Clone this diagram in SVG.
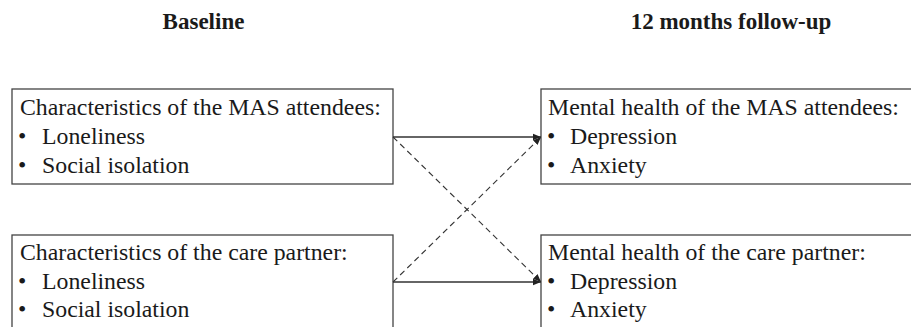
<svg xmlns="http://www.w3.org/2000/svg" width="911" height="327" viewBox="0 0 911 327">
<defs>
<style>
.hdr{font-family:"Liberation Serif","Times New Roman",serif;font-weight:bold;font-size:23px;fill:#1a1a1a;text-anchor:middle}
.t{font-family:"Liberation Serif","Times New Roman",serif;font-size:23.8px;fill:#1a1a1a}
.box{fill:#fff;stroke:#444;stroke-width:1.3}
.solid{stroke:#333;stroke-width:1.3;fill:none}
.dash{stroke:#333;stroke-width:1.1;fill:none;stroke-dasharray:6 4}
</style>
<marker id="ah" viewBox="0 0 10 10" refX="10" refY="5" markerWidth="8" markerHeight="8" markerUnits="userSpaceOnUse" orient="auto">
<path d="M0,1 L10,5 L0,9 z" fill="#222"/>
</marker>
</defs>
<rect width="911" height="327" fill="#fff"/>
<g id="headers">
<text class="hdr" x="203.5" y="29">Baseline</text>
<text class="hdr" x="731" y="29">12 months follow-up</text>
</g>
<g id="node-mas-baseline">
<rect class="box" x="12" y="89" width="381" height="95"/>
<text class="t" x="20" y="115">Characteristics of the MAS attendees:</text>
<text class="t" x="18" y="144">•</text><text class="t" x="42" y="144">Loneliness</text>
<text class="t" x="18" y="173">•</text><text class="t" x="42" y="173">Social isolation</text>
</g>
<g id="node-cp-baseline">
<rect class="box" x="12" y="235" width="381" height="100"/>
<text class="t" x="20" y="260">Characteristics of the care partner:</text>
<text class="t" x="18" y="289">•</text><text class="t" x="42" y="289">Loneliness</text>
<text class="t" x="18" y="317">•</text><text class="t" x="42" y="317">Social isolation</text>
</g>
<g id="node-mas-followup">
<rect class="box" x="541" y="89" width="380" height="95"/>
<text class="t" x="548" y="115">Mental health of the MAS attendees:</text>
<text class="t" x="547" y="144">•</text><text class="t" x="570" y="144">Depression</text>
<text class="t" x="547" y="173">•</text><text class="t" x="570" y="173">Anxiety</text>
</g>
<g id="node-cp-followup">
<rect class="box" x="541" y="235" width="380" height="100"/>
<text class="t" x="548" y="260">Mental health of the care partner:</text>
<text class="t" x="547" y="289">•</text><text class="t" x="570" y="289">Depression</text>
<text class="t" x="547" y="317">•</text><text class="t" x="570" y="317">Anxiety</text>
</g>
<g id="connectors">
<line class="solid" x1="393" y1="137" x2="541" y2="137" marker-end="url(#ah)"/>
<line class="solid" x1="393" y1="282" x2="541" y2="282" marker-end="url(#ah)"/>
<line class="dash" x1="393" y1="137" x2="541" y2="282" marker-end="url(#ah)"/>
<line class="dash" x1="393" y1="282" x2="541" y2="137" marker-end="url(#ah)"/>
</g>
</svg>
